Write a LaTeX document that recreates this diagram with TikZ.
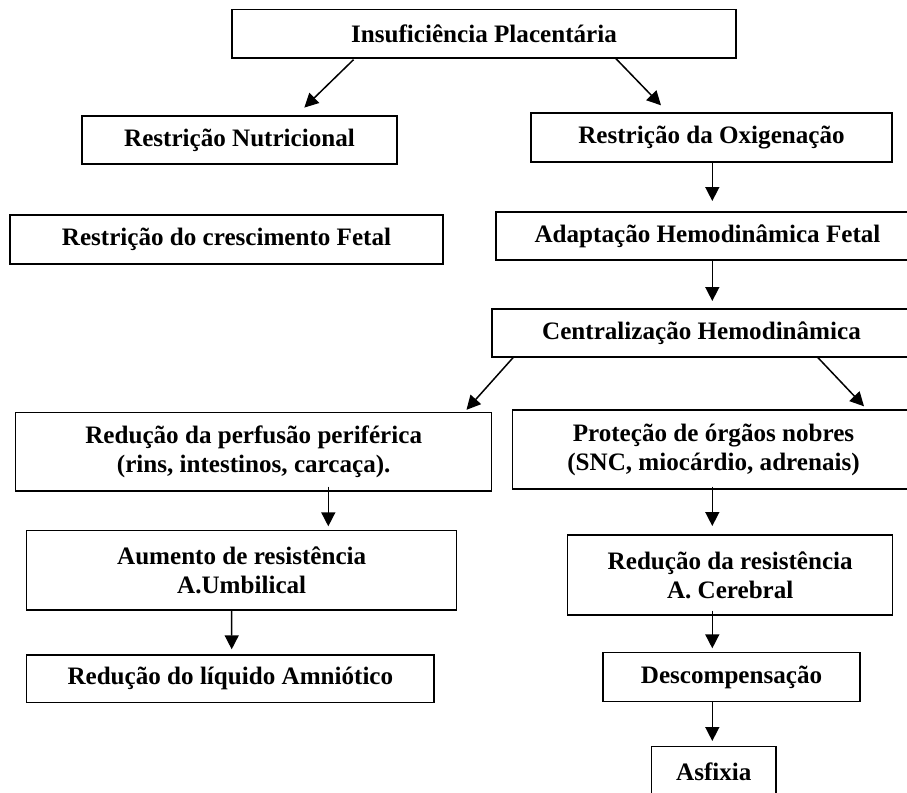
\documentclass[tikz,border=0pt]{standalone}
\usepackage{fontspec}
\setmainfont{Liberation Serif}
\usetikzlibrary{arrows.meta,calc}
\begin{document}
\begin{tikzpicture}[x=1pt,y=-1pt,
  box/.style={draw=black, line width=1.4pt, inner sep=0pt, align=center,
    font=\fontsize{25.1}{29}\selectfont\bfseries},
  arr/.style={line width=1.5pt, -{Triangle[length=14pt,width=14pt]}}]
\useasboundingbox (0,0) rectangle (907,792);
\clip (0,0) rectangle (907,792);
% boxes
\node[box, minimum width=504pt, minimum height=48.5pt] (ins) at (484,33.75) {Insuficiência Placentária};
\node[box, minimum width=315pt, minimum height=48pt] (nut) at (239.5,140) {Restrição Nutricional};
\node[box, minimum width=361pt, minimum height=49pt] (oxi) at (711.5,137.5) {Restrição da Oxigenação};
\node[box, minimum width=433pt, minimum height=49pt] (fet) at (226.5,239.5) {Restrição do crescimento Fetal};
\node[box, minimum width=423pt, minimum height=48pt] (ada) at (707.5,236) {Adaptação Hemodinâmica Fetal};
\node[box, minimum width=419pt, minimum height=48pt] (cen) at (701.5,333) {Centralização Hemodinâmica};
\node[box, minimum width=476pt, minimum height=78.7pt] (per) at (253.7,451.65) {Redução da perfusão periférica\\(rins, intestinos, carcaça).};
\node[box, minimum width=401.6pt, minimum height=79pt] (pro) at (713.5,449.5) {Proteção de órgãos nobres\\(SNC, miocárdio, adrenais)};
\node[box, minimum width=430pt, minimum height=79.3pt] (aum) at (241.7,570.35) {Aumento de resistência\\A.Umbilical};
\node[box, minimum width=325pt, minimum height=80pt] (red) at (730.2,575) {Redução da resistência\\A. Cerebral};
\node[box, minimum width=407.3pt, minimum height=47.7pt] (amn) at (230.35,678.85) {Redução do líquido Amniótico};
\node[box, minimum width=257pt, minimum height=49pt] (des) at (731.5,677.2) {Descompensação};
\node[box, minimum width=124.3pt, minimum height=50.3pt] (asf) at (713.85,771.85) {Asfixia};
% connectors
\draw[arr] ([xshift=-130.5pt,yshift=-1pt]ins.south) -- ([xshift=64.8pt,yshift=7.7pt]nut.north);
\draw[arr] ([xshift=132pt]ins.south) -- ([xshift=-50.5pt,yshift=7pt]oxi.north);
\draw[arr] ([xshift=0.8pt]oxi.south) -- ([xshift=4.8pt,yshift=10.3pt]ada.north);
\draw[arr] ([xshift=4.8pt]ada.south) -- ([xshift=10.8pt,yshift=7.3pt]cen.north);
\draw[arr] ([xshift=-188.5pt]cen.south) -- ([xshift=212.8pt,yshift=1.8pt]per.north);
\draw[arr] ([xshift=116.5pt]cen.south) -- ([xshift=150.5pt,yshift=3pt]pro.north);
\draw[arr] ([xshift=74.6pt,yshift=5pt]per.south) -- ([xshift=86.6pt,yshift=3.7pt]aum.north);
\draw[arr] ([xshift=-10pt]aum.south) -- ([xshift=1.35pt,yshift=5pt]amn.north);
\draw[arr] ([xshift=-1.2pt,yshift=3pt]pro.south) -- ([xshift=-17.9pt,yshift=8.3pt]red.north);
\draw[arr] ([xshift=-17.9pt,yshift=5pt]red.south) -- ([xshift=-19.2pt,yshift=3.7pt]des.north);
\draw[arr] ([xshift=-19.2pt]des.south) -- ([xshift=-1.55pt,yshift=5pt]asf.north);
\end{tikzpicture}
\end{document}
